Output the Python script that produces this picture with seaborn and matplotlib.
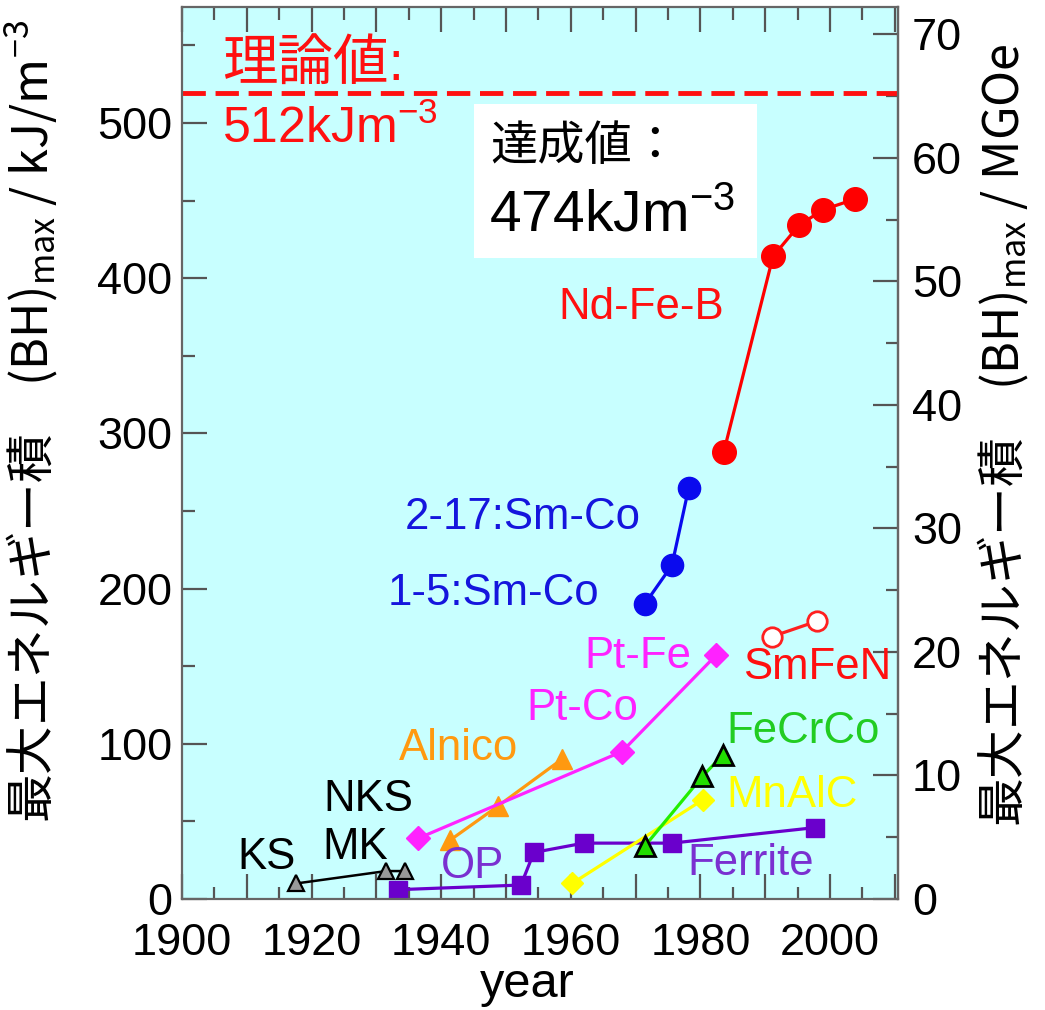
import numpy as np
import pandas as pd
import seaborn as sns
import matplotlib.pyplot as plt
from matplotlib.ticker import MultipleLocator, FixedLocator, FuncFormatter
from matplotlib.patches import Rectangle

# --- data ---
ks_year = [1917.6, 1931.5, 1934.4]
ks_val = [10, 18, 18]

op_year = [1933.3, 1952.3, 1954.3, 1962.0, 1975.6, 1997.7]
op_val = [6, 9, 30, 36, 36, 46]

mnalc_year = [1960.2, 1980.4]
mnalc_val = [10, 64]

fecrco_year = [1971.4, 1980.3, 1983.5]
fecrco_val = [34, 79, 93]

alnico_year = [1941.4, 1948.8, 1958.6]
alnico_val = [38, 60, 90]

ptco_year = [1936.4, 1967.9, 1982.4]
ptco_val = [39, 95, 157]

smco_year = [1971.4, 1975.6, 1978.2]
smco_val = [190, 215, 265]

ndfeb_year = [1983.6, 1991.2, 1995.2, 1998.9, 2003.9]
ndfeb_val = [288, 414, 434, 444, 451]

smfen_year = [1991.0, 1998.0]
smfen_val = [169, 179]

theory_val = 519
KJ_PER_MGOE = 7.958
mgoe_ticks = [0, 10, 20, 30, 40, 50, 60, 70]

sns.set_theme(style="ticks")
plt.rcParams['font.family'] = ['Liberation Sans', 'Noto Sans CJK JP', 'DejaVu Sans']
plt.rcParams['mathtext.fontset'] = 'custom'
plt.rcParams['mathtext.rm'] = 'Liberation Sans'
plt.rcParams['mathtext.it'] = 'Liberation Sans:italic'
plt.rcParams['mathtext.default'] = 'regular'
plt.rcParams['text.color'] = 'black'
plt.rcParams['axes.labelcolor'] = 'black'
plt.rcParams['xtick.labelcolor'] = 'black'
plt.rcParams['ytick.labelcolor'] = 'black'

fig = plt.figure(figsize=(10.45, 10.10), dpi=100)
ax = fig.add_axes([0.1742, 0.1099, 0.6852, 0.8832])
ax.set_facecolor('#c8ffff')

lw = 2.3

# series: (x, y, color, marker, size, facecolor, edgecolor, edgewidth)
series = [
    (ks_year, ks_val, 'black', '^', 12, '#999999', 'black', 1.6),
    (op_year, op_val, '#6a00cc', 's', 13, '#6a00cc', '#6a00cc', 1),
    (mnalc_year, mnalc_val, '#ffff00', 'D', 11, '#ffff00', '#ffff00', 1),
    (fecrco_year, fecrco_val, '#22ee00', '^', 15, '#22dd00', 'black', 2),
    (alnico_year, alnico_val, '#ff9910', '^', 15, '#ff9910', '#ff9910', 1),
    (ptco_year, ptco_val, '#ff22ff', 'D', 12, '#ff22ff', '#ff22ff', 1),
    (smco_year, smco_val, '#0a0aee', 'o', 16, '#0a0aee', '#0a0aee', 1),
    (ndfeb_year, ndfeb_val, '#ff0000', 'o', 17, '#ff0000', '#ff0000', 1),
    (smfen_year, smfen_val, '#ff2020', 'o', 14, 'white', '#ff2020', 2),
]

for xs, ys, col, mk, ms, fc, ec, mew in series:
    sns.lineplot(x=xs, y=ys, color=col, lw=lw if col != 'black' else 1.8,
                 marker=mk, markersize=ms, markerfacecolor=fc,
                 markeredgecolor=ec, markeredgewidth=mew, ax=ax, legend=False)

# theoretical limit
ax.axhline(theory_val, color='#ff1010', lw=3.5, dashes=(4.8, 2.0), zorder=1)

ax.set_xlim(1900, 2010.5)
ax.set_ylim(0, 574.7)

# axes styling
for s in ax.spines.values():
    s.set_color('#666666')
    s.set_linewidth(1.6)

ax.xaxis.set_major_locator(MultipleLocator(10))
ax.xaxis.set_minor_locator(MultipleLocator(5))
ax.xaxis.set_major_formatter(FuncFormatter(lambda v, p: f"{int(round(v))}" if round(v) % 20 == 0 else ""))
ax.yaxis.set_major_locator(MultipleLocator(100))
ax.yaxis.set_minor_locator(MultipleLocator(50))
ax.tick_params(which='both', direction='in', top=True, right=False, color='#555555', width=1.6)
ax.tick_params(which='major', length=18, labelsize=32.5)
ax.tick_params(which='minor', length=9)
ax.tick_params(axis='x', pad=17)
ax.tick_params(axis='y', pad=7)

ax.set_xlabel('year', fontsize=35)
ax.xaxis.set_label_coords(0.482, -0.0705)
ax.set_ylabel('最大エネルギー積\u3000(BH)$_{max}$ / kJ/m$^{-3}$', fontsize=35,
              family=['Noto Sans CJK JP'])
ax.yaxis.set_label_coords(-0.170, 0.535)

sec = ax.secondary_yaxis('right', functions=(lambda v: v / KJ_PER_MGOE, lambda v: v * KJ_PER_MGOE))
sec.yaxis.set_major_locator(FixedLocator(mgoe_ticks))
sec.yaxis.set_minor_locator(FixedLocator([t + 5 for t in mgoe_ticks[:-1]]))
sec.tick_params(which='both', direction='in', color='#555555', width=1.6)
sec.tick_params(which='major', length=18, labelsize=32.5, pad=10)
sec.tick_params(which='minor', length=9)
sec.spines['right'].set_color('#666666')
sec.spines['right'].set_linewidth(1.6)
sec.set_ylabel('最大エネルギー積\u3000(BH)$_{max}$ / MGOe', fontsize=35,
               family=['Noto Sans CJK JP'])
sec.yaxis.set_label_coords(1.108, 0.52, transform=ax.transAxes)

# annotations
ax.text(1906.2, 537, '理論値:', color='#ff1010', fontsize=40, va='center', ha='left')
ax.text(1906.2, 496, '512kJm$^{-3}$', color='#ff1010', fontsize=36, va='center', ha='left')

ax.add_patch(Rectangle((1945.1, 413), 43.6, 99, facecolor='white', edgecolor='none', zorder=2))
ax.text(1947.6, 484, '達成値：', color='black', fontsize=34, va='center', ha='left', zorder=3)
ax.text(1947.4, 440, '474kJm$^{-3}$', color='black', fontsize=41, va='center', ha='left', zorder=3)

labels = [
    ('Nd-Fe-B', 1970.8, 381, '#ff1010'),
    ('2-17:Sm-Co', 1952.6, 246, '#1515dd'),
    ('1-5:Sm-Co', 1948.0, 197, '#1515dd'),
    ('Pt-Fe', 1970.4, 156, '#ff22ff'),
    ('Pt-Co', 1961.7, 123, '#ff22ff'),
    ('Alnico', 1942.7, 97, '#ff9910'),
    ('SmFeN', 1998.0, 149, '#ff1010'),
    ('FeCrCo', 1995.8, 108, '#22cc22'),
    ('MnAlC', 1994.1, 67, '#ffff00'),
    ('Ferrite', 1987.7, 23, '#7a30d0'),
    ('NKS', 1928.7, 64, 'black'),
    ('MK', 1926.7, 33, 'black'),
    ('KS', 1913.1, 27, 'black'),
    ('OP', 1944.9, 21, '#7a30d0'),
]
for txt, x, y, c in labels:
    ax.text(x, y, txt, color=c, fontsize=31.5, ha='center', va='center', zorder=4)

fig.savefig('out.png', dpi=100)
